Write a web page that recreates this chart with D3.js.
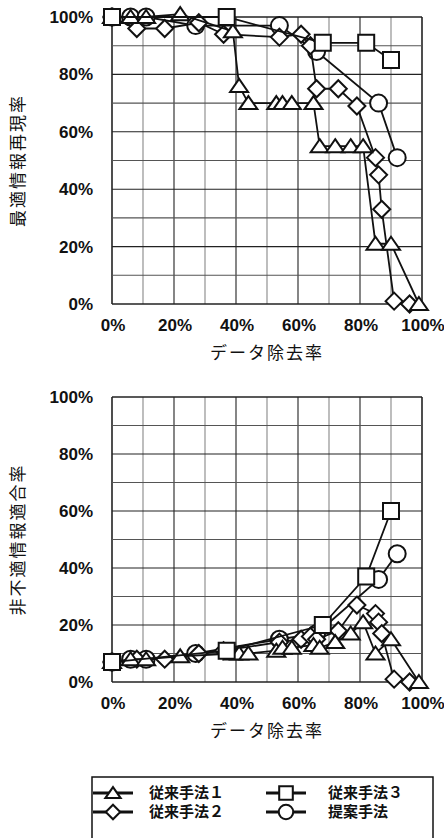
<!DOCTYPE html>
<html>
<head>
<meta charset="utf-8">
<script src="https://cdn.jsdelivr.net/npm/d3@7"></script>
<style>
  html, body { margin: 0; padding: 0; background: #fff; }
  svg { display: block; }
  .tick-label { font-family: "Liberation Sans", Arial, sans-serif; font-weight: bold; font-size: 17px; fill: #111; }
  .axis-title { font-family: "Noto Sans CJK JP", sans-serif; font-size: 17px; fill: #111; }
  .legend-label { font-family: "Noto Sans CJK JP", sans-serif; font-weight: bold; font-size: 15px; fill: #111; }
</style>
</head>
<body>
<svg id="chart" width="444" height="838"></svg>
<script>
// Series names and marker shapes
const seriesNames = ["従来手法１", "従来手法２", "従来手法３", "提案手法"];
const seriesShapes = ["triangle", "diamond", "square", "circle"];

// 従来手法1
const removal1 = [0, 6, 11, 22, 39, 41, 44, 53, 55, 58, 65, 67, 72, 77, 81, 85, 90, 99];
const recall1  = [100, 100, 100, 101, 95, 76, 70, 70, 70, 70, 70, 55, 55, 55, 55, 21, 21, 0];
const fit1     = [7, 8, 8, 9, 10, 10, 10, 11, 12, 12, 13, 12, 14, 17, 21, 10, 15, 0];

// 従来手法2
const removal2 = [0, 8, 17, 28, 36, 54, 61, 64, 66, 73, 79, 85, 86, 87, 91, 96];
const recall2  = [100, 96, 96, 98, 94, 93, 94, 90, 75, 75, 69, 51, 45, 33, 1, 0];
const fit2     = [7, 8, 8, 10, 11, 14, 15, 16, 15, 18, 27, 24, 21, 17, 1, 0];

// 従来手法3
const removal3 = [0, 37, 68, 82, 90];
const recall3  = [100, 100, 91, 91, 85];
const fit3     = [7, 11, 20, 37, 60];

// 提案手法
const removal4 = [0, 6, 11, 27, 54, 66, 86, 92];
const recall4  = [100, 100, 100, 97, 97, 88, 70, 51];
const fit4     = [7, 8, 8, 10, 15, 17, 36, 45];

// Axis ticks
const xTickLabels = ["0%", "20%", "40%", "60%", "80%", "100%"];
const yTickLabels = ["0%", "20%", "40%", "60%", "80%", "100%"];
const xTitle = "データ除去率";
const yTitleTop = "最適情報再現率";
const yTitleBottom = "非不適情報適合率";

const removals = [removal1, removal2, removal3, removal4];
const recalls = [recall1, recall2, recall3, recall4];
const fits = [fit1, fit2, fit3, fit4];
// drawing order: circles first, squares last
const drawOrder = [3, 1, 0, 2];

const svg = d3.select("#chart");

function markerPath(shape) {
  switch (shape) {
    case "triangle": return "M0,-7L9,6L-9,6Z";
    case "diamond":  return "M0,-8.5L8.5,0L0,8.5L-8.5,0Z";
    case "square":   return "M-8,-8H8V8H-8Z";
    case "circle":   return d3.arc()({innerRadius: 0, outerRadius: 8.5, startAngle: 0, endAngle: 2 * Math.PI});
  }
}

function drawPanel(top, bottom, values, yTitle) {
  const x = d3.scaleLinear().domain([0, 100]).range([112, 422]);
  const y = d3.scaleLinear().domain([0, 100]).range([bottom, top]);
  const g = svg.append("g");

  // grid
  const grid = d3.range(0, 101, 10);
  g.selectAll(".vg").data(grid).join("line")
    .attr("x1", d => x(d)).attr("x2", d => x(d))
    .attr("y1", y(0)).attr("y2", y(100))
    .attr("stroke", d => d % 20 === 0 ? "#222" : "#888")
    .attr("stroke-width", d => (d === 0 || d === 100) ? 1.6 : 1.1);
  g.selectAll(".hg").data(grid).join("line")
    .attr("x1", x(0)).attr("x2", x(100))
    .attr("y1", d => y(d)).attr("y2", d => y(d))
    .attr("stroke", d => d % 20 === 0 ? "#222" : "#555")
    .attr("stroke-width", d => (d === 0 || d === 100) ? 1.6 : 1.1);

  // tick labels
  g.selectAll(".yl").data(yTickLabels).join("text")
    .attr("class", "tick-label")
    .attr("x", 93).attr("y", (d, i) => y(i * 20) + 6)
    .attr("text-anchor", "end").text(d => d);
  g.selectAll(".xl").data(xTickLabels).join("text")
    .attr("class", "tick-label")
    .attr("x", (d, i) => x(i * 20) + 1).attr("y", y(0) + 27)
    .attr("text-anchor", "middle").text(d => d);

  // axis titles
  g.append("text").attr("class", "axis-title")
    .attr("x", 267).attr("y", y(0) + 55)
    .attr("text-anchor", "middle").attr("letter-spacing", 2)
    .text(xTitle);
  g.append("text").attr("class", "axis-title")
    .attr("transform", `translate(24,${(top + bottom) / 2}) rotate(-90)`)
    .attr("text-anchor", "middle").attr("letter-spacing", 2)
    .text(yTitle);

  // series
  const line = d3.line().x(d => x(d[0])).y(d => y(d[1]));
  drawOrder.forEach(s => {
    const pts = removals[s].map((r, i) => [r, values[s][i]]);
    const sg = g.append("g");
    sg.append("path").attr("d", line(pts))
      .attr("fill", "none").attr("stroke", "#111").attr("stroke-width", 1.8);
    sg.selectAll("path.m").data(pts).join("path").attr("class", "m")
      .attr("d", markerPath(seriesShapes[s]))
      .attr("transform", d => `translate(${x(d[0])},${y(d[1])})`)
      .attr("fill", "#fff").attr("stroke", "#111").attr("stroke-width", 2);
  });
}

drawPanel(17, 304, recalls, yTitleTop);
drawPanel(397, 682, fits, yTitleBottom);

// legend
const lg = svg.append("g");
lg.append("rect").attr("x", 92).attr("y", 777).attr("width", 341).attr("height", 90)
  .attr("fill", "#fff").attr("stroke", "#111").attr("stroke-width", 1.5);
const legendPos = [
  {s: 0, cx: 113, cy: 793, lx: 149},
  {s: 2, cx: 286, cy: 793, lx: 328},
  {s: 1, cx: 113, cy: 812, lx: 149},
  {s: 3, cx: 286, cy: 812, lx: 328}
];
legendPos.forEach(p => {
  lg.append("line").attr("x1", p.cx - 20).attr("x2", p.cx + 20)
    .attr("y1", p.cy).attr("y2", p.cy)
    .attr("stroke", "#111").attr("stroke-width", 3);
  lg.append("path").attr("d", markerPath(seriesShapes[p.s]))
    .attr("transform", `translate(${p.cx},${p.cy}) scale(0.85)`)
    .attr("fill", "#fff").attr("stroke", "#111").attr("stroke-width", 2.4);
  lg.append("text").attr("class", "legend-label")
    .attr("x", p.lx).attr("y", p.cy + 5)
    .text(seriesNames[p.s]);
});
</script>
</body>
</html>
